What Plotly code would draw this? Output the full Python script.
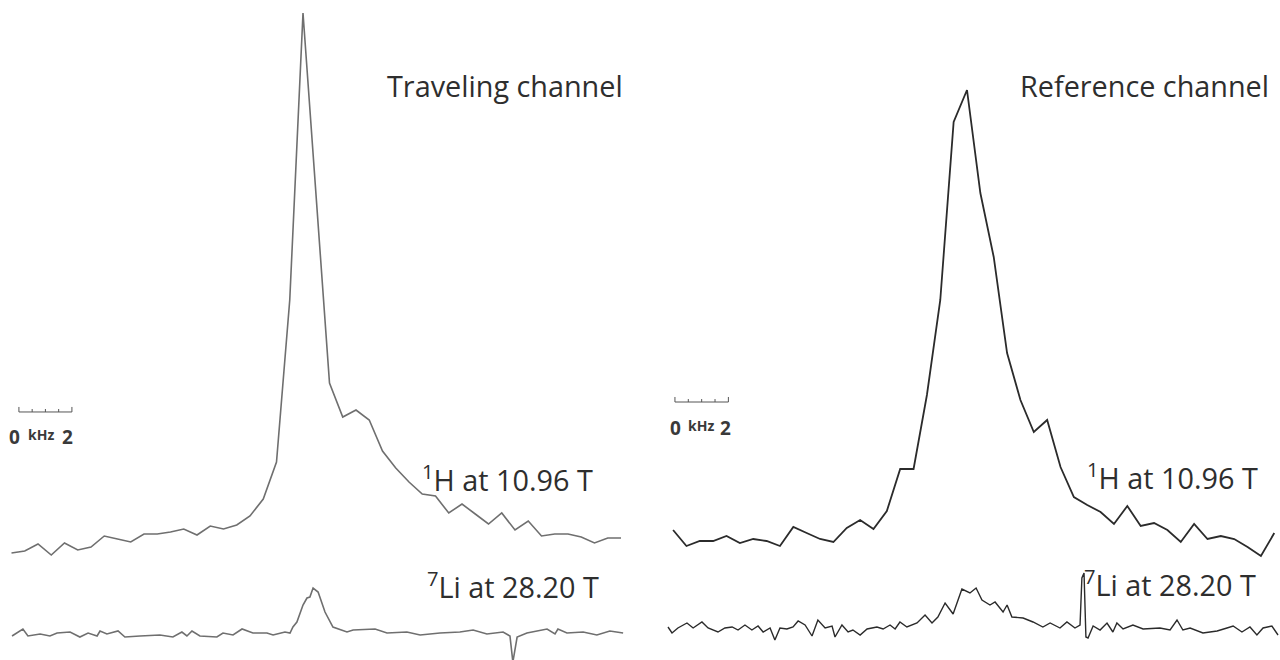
import plotly.graph_objects as go

# ---------------- Traveling channel ----------------
# 1H spectrum, 0.5 kHz per point, frequency offset from the peak (kHz)
trav_h_khz = [-11.0, -10.5, -10.0, -9.5, -9.0, -8.5, -8.0, -7.5, -7.0, -6.5, -6.0, -5.5,
              -5.0, -4.5, -4.0, -3.5, -3.0, -2.5, -2.0, -1.5, -1.0, -0.5, 0.0, 0.5,
              1.0, 1.5, 2.0, 2.5, 3.0, 3.5, 4.0, 4.5, 5.0, 5.5, 6.0, 6.5, 7.0, 7.5,
              8.0, 8.5, 9.0, 9.5, 10.0, 10.5, 11.0, 11.5, 12.0]
trav_h_int = [1.4, 1.8, 3.2, 1.0, 3.4, 2.0, 2.6, 4.8, 4.2, 3.6, 5.2, 5.2,
              5.6, 6.2, 5.0, 6.8, 6.2, 7.0, 8.8, 12.2, 19.6, 52.0, 109.4, 73.0,
              35.4, 28.6, 30.0, 28.0, 21.8, 18.4, 15.6, 13.2, 12.8, 9.4, 11.2, 9.2,
              7.2, 9.4, 6.0, 7.8, 4.8, 5.2, 5.2, 4.6, 3.4, 4.4, 4.4]

# 7Li spectrum
trav_li_khz = [-10.98, -10.57, -10.38, -9.92, -9.55, -9.28, -8.79, -8.42, -8.11, -7.77,
               -7.66, -7.40, -6.98, -6.72, -6.15, -5.40, -4.91, -4.57, -4.38, -4.19,
               -3.89, -3.25, -3.02, -2.64, -2.30, -1.89, -1.36, -1.13, -0.68, -0.49,
               -0.38, -0.23, 0.00, 0.15, 0.26, 0.38, 0.57, 0.83, 1.13, 1.66,
               1.89, 2.72, 3.17, 3.92, 4.42, 5.17, 5.92, 6.42, 6.94, 7.55,
               7.81, 7.92, 8.08, 8.45, 9.21, 9.51, 9.62, 9.96, 10.57, 11.09,
               11.58, 12.08]
trav_li_int = [-0.6, 0.8, -0.6, -0.2, -0.6, 0.0, 0.2, -0.8, 0.0, -0.6,
               0.4, -0.2, 0.4, -0.8, -0.6, -0.4, -0.8, 0.2, -0.6, 0.4,
               -0.6, -0.8, 0.0, -0.4, 0.8, 0.0, 0.0, -0.4, 0.2, 0.0,
               1.2, 2.2, 5.6, 7.0, 7.2, 9.0, 8.2, 4.2, 1.2, 0.2,
               0.6, 0.8, 0.0, 0.2, -0.4, 0.0, 0.2, 0.6, -0.2, 0.2,
               -0.6, -5.8, -0.8, 0.0, 0.8, -0.2, 0.8, 0.0, 0.2, -0.4,
               0.4, 0.0]

# ---------------- Reference channel ----------------
ref_h_khz = [-11.0, -10.5, -10.0, -9.5, -9.0, -8.5, -8.0, -7.5, -7.0, -6.5, -6.0, -5.5,
             -5.0, -4.5, -4.0, -3.5, -3.0, -2.5, -2.0, -1.5, -1.0, -0.5, 0.0, 0.5,
             1.0, 1.5, 2.0, 2.5, 3.0, 3.5, 4.0, 4.5, 5.0, 5.5, 6.0, 6.5, 7.0, 7.5,
             8.0, 8.5, 9.0, 9.5, 10.0, 10.5, 11.0, 11.5]
ref_h_int = [4.0, 0.8, 1.8, 1.8, 2.8, 1.4, 2.2, 1.8, 0.8, 4.6, 3.4, 2.2,
             1.6, 4.4, 6.0, 4.2, 7.8, 16.2, 16.2, 31.0, 50.0, 85.6, 92.0, 71.4,
             58.6, 39.4, 30.0, 23.6, 26.0, 16.6, 10.6, 9.0, 7.6, 5.2, 8.8, 4.8,
             5.4, 4.0, 1.6, 5.2, 2.2, 2.8, 2.2, 0.6, -1.2, 3.4]

ref_li_khz = [-11.19, -11.04, -10.82, -10.48, -10.25, -9.92, -9.69, -9.32, -9.06, -8.79,
              -8.57, -8.31, -8.05, -7.82, -7.63, -7.37, -7.19, -7.00, -6.74, -6.51,
              -6.32, -6.06, -5.80, -5.58, -5.31, -5.05, -4.94, -4.68, -4.45, -4.27,
              -4.00, -3.74, -3.37, -3.14, -2.88, -2.69, -2.51, -2.25, -1.87, -1.57,
              -1.31, -1.09, -0.82, -0.64, -0.52, -0.19, 0.11, 0.34, 0.56, 0.86,
              1.05, 1.35, 1.50, 1.68, 2.10, 2.47, 2.84, 3.11, 3.48, 3.74,
              4.04, 4.23, 4.30, 4.38, 4.45, 4.53, 4.72, 4.98, 5.24, 5.46,
              5.61, 5.84, 6.21, 6.59, 7.22, 7.60, 7.86, 8.08, 8.35, 8.83,
              9.36, 9.73, 9.96, 10.29, 10.59, 10.85, 11.08, 11.41, 11.64]
ref_li_int = [0.2, -1.0, 0.0, 1.0, 0.0, 1.2, 0.0, -0.8, 0.0, 0.2,
              -0.4, 0.6, -0.4, 0.4, -0.8, 0.0, -2.4, 0.0, -0.2, 0.2,
              1.4, 0.6, -1.6, 1.6, 0.0, 0.4, -1.8, 0.6, -0.8, -0.4,
              -1.4, -0.2, 0.2, -0.2, 0.6, -0.2, 1.2, 0.2, 1.0, 2.6,
              1.0, 2.2, 5.0, 3.6, 2.8, 7.8, 7.0, 8.0, 5.6, 4.6,
              5.2, 3.2, 4.6, 2.2, 2.0, 1.2, 0.2, 1.0, 0.0, 1.2,
              0.0, 0.6, 10.0, 11.0, -1.8, -2.0, 0.4, -0.4, 1.0, -0.8,
              1.0, -0.2, 0.6, -0.2, 0.0, -0.4, 1.6, -0.4, 0.0, -1.0,
              -0.6, 0.0, 0.4, -0.8, 0.2, -1.4, 0.0, 0.4, -1.4]

panel_titles = ["Traveling channel", "Reference channel"]
h_label = "<sup>1</sup>H at 10.96 T"
li_label = "<sup>7</sup>Li at 28.20 T"

GREY = "#6f6f6f"
DARK = "#2b2b2b"
TEXT = "#2e2e2e"
FONT = "Open Sans"

fig = go.Figure()
fig.add_trace(go.Scatter(x=trav_h_khz, y=trav_h_int, mode="lines", xaxis="x", yaxis="y",
                         line=dict(color=GREY, width=1.6), hoverinfo="skip"))
fig.add_trace(go.Scatter(x=trav_li_khz, y=trav_li_int, mode="lines", xaxis="x", yaxis="y2",
                         line=dict(color=GREY, width=1.6), hoverinfo="skip"))
fig.add_trace(go.Scatter(x=ref_h_khz, y=ref_h_int, mode="lines", xaxis="x2", yaxis="y3",
                         line=dict(color=DARK, width=1.8), hoverinfo="skip"))
fig.add_trace(go.Scatter(x=ref_li_khz, y=ref_li_int, mode="lines", xaxis="x2", yaxis="y4",
                         line=dict(color=DARK, width=1.4), hoverinfo="skip"))

hidden = dict(visible=False, showgrid=False, zeroline=False, fixedrange=True)
fig.update_layout(
    width=1280, height=660,
    margin=dict(l=0, r=0, t=0, b=0),
    paper_bgcolor="white", plot_bgcolor="white",
    showlegend=False,
    xaxis=dict(domain=[0.0, 0.5], range=[-11.434, 12.717], **hidden),
    xaxis2=dict(domain=[0.5, 1.0], range=[-12.238, 11.714], **hidden),
    yaxis=dict(domain=[0, 1], range=[-20, 112], anchor="x", **hidden),
    yaxis2=dict(domain=[0, 1], range=[-5.4, 126.6], anchor="x", overlaying="y", **hidden),
    yaxis3=dict(domain=[0, 1], range=[-22, 110], anchor="x2", **hidden),
    yaxis4=dict(domain=[0, 1], range=[-6.4, 125.6], anchor="x2", overlaying="y3", **hidden),
)

# 2 kHz scale bars with 0.5 kHz minor ticks
# (axis, bar start in kHz, bar height, label height, offsets of "0", "kHz", "2")
bars = [("x", -10.72, 0.3758, 0.338, (-0.18, 0.85, 1.82)),
        ("x2", -10.93, 0.3909, 0.3515, (0.03, 0.97, 1.9))]
shapes = []
annotations = []
for xref, x0, ybar, ylab, (o0, okhz, o2) in bars:
    shapes.append(dict(type="line", xref=xref, yref="paper", x0=x0, x1=x0 + 2,
                       y0=ybar, y1=ybar, line=dict(color="#555", width=1)))
    for i in range(5):
        tick_h = 0.0076 if i in (0, 4) else 0.0045
        xt = x0 + 0.5 * i
        shapes.append(dict(type="line", xref=xref, yref="paper", x0=xt, x1=xt,
                           y0=ybar, y1=ybar + tick_h, line=dict(color="#555", width=1)))
    for txt, off, size, dy in (("0", o0, 19, 0.0), ("kHz", okhz, 14, 0.004), ("2", o2, 19, 0.0)):
        annotations.append(dict(x=x0 + off, y=ylab + dy, xref=xref, yref="paper",
                                text=f"<b>{txt}</b>", showarrow=False,
                                font=dict(family=FONT, size=size, color="#3a3a3a"),
                                xanchor="center", yanchor="middle"))

text_items = [
    (panel_titles[0], 0.3005, 0.8697),
    (panel_titles[1], 0.7955, 0.8697),
    (h_label, 0.328, 0.2758),
    (h_label, 0.8477, 0.2788),
    (li_label, 0.332, 0.1136),
    (li_label, 0.8453, 0.1167),
]
for txt, xp, yp in text_items:
    annotations.append(dict(x=xp, y=yp, xref="paper", yref="paper", text=txt,
                            showarrow=False, xanchor="left", yanchor="middle",
                            font=dict(family=FONT, size=28.8, color=TEXT)))

fig.update_layout(shapes=shapes, annotations=annotations)
fig.write_html("out.html", config={"displayModeBar": False})
